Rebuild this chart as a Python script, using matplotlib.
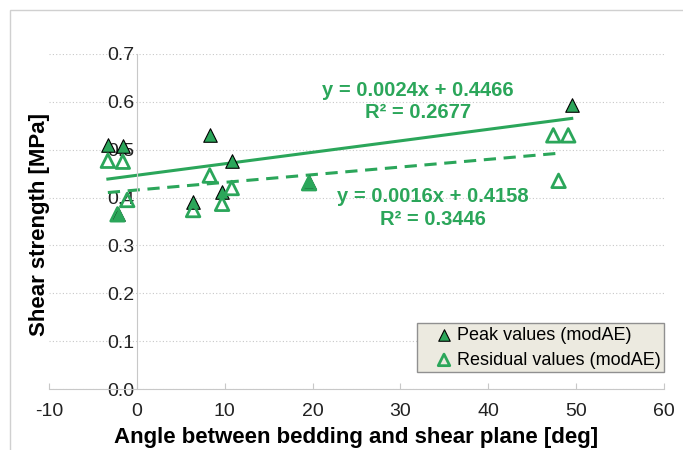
import numpy as np
import matplotlib.pyplot as plt
from matplotlib.patches import Rectangle

plt.rcParams['font.family'] = ['Liberation Sans', 'DejaVu Sans']
plt.rcParams['axes.unicode_minus'] = False

GREEN = '#2BA65A'

# peak values (modAE)
peak_x = [-3.3, -1.6, -2.2, 6.4, 8.3, 9.7, 10.8, 19.6, 49.5]
peak_y = [0.510, 0.508, 0.365, 0.391, 0.531, 0.412, 0.477, 0.433, 0.594]

# residual values (modAE)
res_x = [-3.3, -1.6, -1.1, -2.2, 6.4, 8.3, 9.7, 10.8, 19.6, 47.4, 49.1, 48.0]
res_y = [0.477, 0.475, 0.395, 0.365, 0.374, 0.446, 0.387, 0.420, 0.430, 0.530, 0.530, 0.435]

# trend line coefficients (slope, intercept, R^2)
peak_fit = (0.0024, 0.4466, 0.2677)
res_fit = (0.0016, 0.4158, 0.3446)

fig = plt.figure(figsize=(6.83, 4.5), dpi=100)
fig.patches.append(Rectangle((10 / 683, -0.1), 1.2, (440 / 450) + 0.1,
                             transform=fig.transFigure, fill=False,
                             edgecolor='#d0d0d0', lw=1.0))
ax = fig.add_axes([49 / 683, 61 / 450, 615 / 683, 335 / 450])

# trend lines
xs = np.array([min(peak_x), max(peak_x)])
ax.plot(xs, peak_fit[0] * xs + peak_fit[1], color=GREEN, lw=2.2, zorder=2)
xr = np.array([min(res_x), 48.4])
ax.plot(xr, res_fit[0] * xr + res_fit[1], color=GREEN, lw=2.2,
        dashes=(4, 2.5), zorder=2)

ax.scatter(peak_x, peak_y, marker='^', s=95, facecolor=GREEN,
           edgecolor='black', lw=0.8, zorder=3, label='Peak values (modAE)')
ax.scatter(res_x, res_y, marker='^', s=95, facecolor='none',
           edgecolor=GREEN, lw=2.0, zorder=4, label='Residual values (modAE)')

eq = dict(ha='center', va='center', color=GREEN, fontsize=14.5, fontweight='bold')
ax.text(32.0, 0.624, f'y = {peak_fit[0]:.4f}x + {peak_fit[1]:.4f}', **eq)
ax.text(32.0, 0.578, f'R² = {peak_fit[2]:.4f}', **eq)
ax.text(33.7, 0.402, f'y = {res_fit[0]:.4f}x + {res_fit[1]:.4f}', **eq)
ax.text(33.7, 0.354, f'R² = {res_fit[2]:.4f}', **eq)

ax.set_xlim(-10, 60)
ax.set_ylim(0, 0.7)
ax.set_xticks(np.arange(-10, 61, 10))
ax.set_yticks(np.arange(0, 0.71, 0.1))
ax.set_yticklabels([f'{v:.1f}' for v in np.arange(0, 0.71, 0.1)])
ax.grid(axis='y', color='#c8c8c8', ls=(0, (1, 2)), lw=0.8)
ax.set_axisbelow(True)

for s in ['top', 'right']:
    ax.spines[s].set_visible(False)
ax.spines['left'].set_position(('data', 0))
ax.spines['left'].set_color('#c8c8c8')
ax.spines['bottom'].set_color('#c8c8c8')
ax.tick_params(axis='x', direction='in', length=4, color='#c8c8c8',
               labelsize=14, pad=10, labelcolor='#222222')
ax.tick_params(axis='y', length=0, labelsize=14, pad=2, labelcolor='#222222')

ax.set_xlabel('Angle between bedding and shear plane [deg]', fontsize=16,
              fontweight='bold', labelpad=5)
fig.text(40 / 683, 1 - 225 / 450, 'Shear strength [MPa]',
         rotation=90, ha='center', va='center', fontsize=16, fontweight='bold')

leg = ax.legend(loc='lower right', bbox_to_anchor=(1.0, 0.05), borderaxespad=0,
                fontsize=13, frameon=True, fancybox=False, handletextpad=-0.6,
                handlelength=2.6, borderpad=0.2, labelspacing=0.45,
                markerscale=0.85)
leg.get_frame().set_facecolor('#ECEAE0')
leg.get_frame().set_edgecolor('#909090')
leg.get_frame().set_alpha(1)

fig.savefig('out.png', dpi=100)
